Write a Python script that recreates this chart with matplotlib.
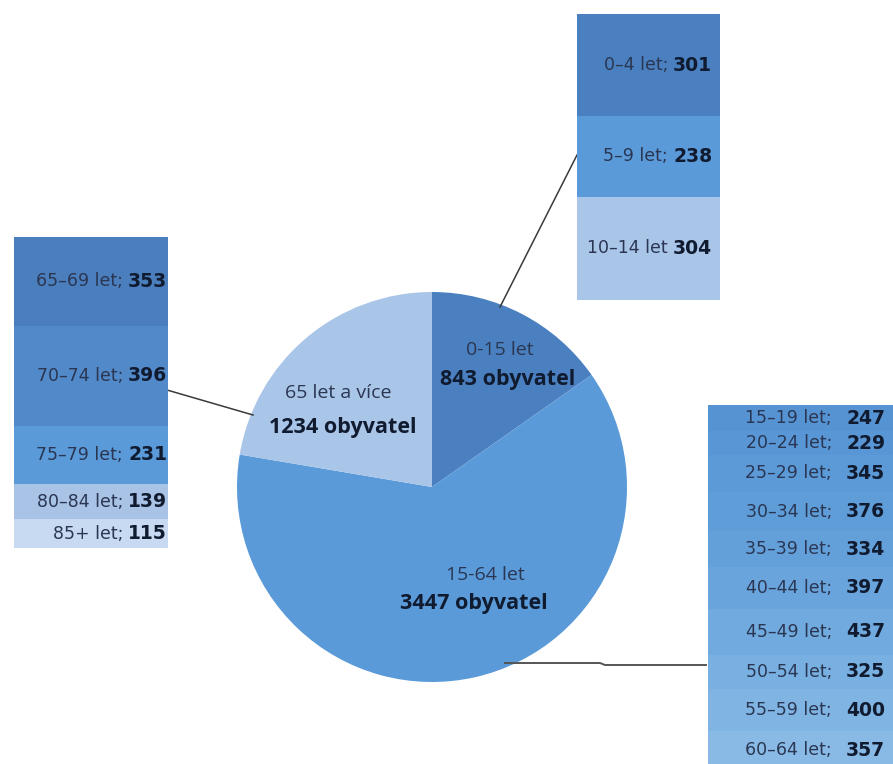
import matplotlib
matplotlib.use("Agg")
import matplotlib.pyplot as plt
import numpy as np

plt.rcParams['font.family'] = ['Open Sans', 'DejaVu Sans']

W, H = 893, 764

# ---- data ----
pie_labels = ["0-15 let", "15-64 let", "65 let a více"]
pie_values = [843, 3447, 1234]

young_labels = ["0–4 let;", "5–9 let;", "10–14 let"]
young_values = [301, 238, 304]

work_labels = ["15–19 let;", "20–24 let;", "25–29 let;", "30–34 let;", "35–39 let;",
               "40–44 let;", "45–49 let;", "50–54 let;", "55–59 let;", "60–64 let;"]
work_values = [247, 229, 345, 376, 334, 397, 437, 325, 400, 357]

old_labels = ["65–69 let;", "70–74 let;", "75–79 let;", "80–84 let;", "85+ let;"]
old_values = [353, 396, 231, 139, 115]

# ---- styles ----
DARK = "#4a80c0"
MED = "#5a9ad8"
LIGHT = "#a9c5e8"
TXT = "#2a3652"
VAL = "#111b30"
BOXFONT = ["DejaVu Sans"]

fig = plt.figure(figsize=(W / 100, H / 100), dpi=100)
fig.patch.set_facecolor("white")

ax = fig.add_axes([0, 0, 1, 1])
def Y(y):
    return H - y

ax.pie(pie_values, colors=[DARK, MED, LIGHT], startangle=90, counterclock=False,
       center=(432, Y(487)), radius=195, wedgeprops=dict(edgecolor="none"))
ax.set_xlim(0, W)
ax.set_ylim(0, H)
ax.set_aspect("equal")
ax.axis("off")

# pie labels
pie_pos = [(500, 508, 350, 379), (485, 474, 575, 604), (338, 343, 393, 428)]
for lab, val, (x1, x2, y1, y2) in zip(pie_labels, pie_values, pie_pos):
    ax.text(x1, Y(y1), lab, ha="center", va="center", fontsize=14, color=TXT)
    ax.text(x2, Y(y2), f"{val} obyvatel", ha="center", va="center", fontsize=15.5,
            fontweight="bold", color=VAL)

# leader lines
lc = "#3a3a3a"
ax.plot([500, 577], [Y(307), Y(155)], color=lc, lw=1.1)
ax.plot([167, 253], [Y(390), Y(415)], color=lc, lw=1.1)
ax.plot([505, 600, 605, 706], [Y(663), Y(663), Y(665), Y(665)], color="#555555", lw=1.4)


def box(x0, x1, y0, y1, labels, values, colors, split, gap, fs_l, fs_v):
    axb = fig.add_axes([x0 / W, 1 - y1 / H, (x1 - x0) / W, (y1 - y0) / H])
    total = sum(values)
    bottoms = np.concatenate([[0], np.cumsum(values)[:-1]])
    axb.bar(0.5, values, width=1.0, bottom=bottoms, color=colors, edgecolor="none")
    axb.set_xlim(0, 1)
    axb.set_ylim(total, 0)
    axb.axis("off")
    xs = (split - x0) / (x1 - x0)
    xv = (split + gap - x0) / (x1 - x0)
    for lab, v, b in zip(labels, values, bottoms):
        yc = b + v / 2
        axb.text(xs, yc, lab, ha="right", va="center", fontsize=fs_l, color=TXT,
                 family=BOXFONT)
        axb.text(xv, yc, str(v), ha="left", va="center", fontsize=fs_v,
                 fontweight="bold", color=VAL, family=BOXFONT)
    return axb

box(577, 720, 14, 300, young_labels, young_values, [DARK, MED, LIGHT],
    split=668, gap=5, fs_l=12.5, fs_v=13.5)

old_colors = ["#4a7ebd", "#5189c9", "#5a9ad8", "#a8c3e6", "#c7daf1"]
box(14, 168, 237, 548, old_labels, old_values, old_colors,
    split=123, gap=5, fs_l=12.5, fs_v=13.5)

work_colors = ["#5593d3", "#5896d5", "#5b99d7", "#5f9dd9", "#63a0da",
               "#69a5dc", "#70aade", "#78b0e1", "#80b5e3", "#88bae5"]
box(708, 905, 405, 769, work_labels, work_values, work_colors,
    split=832, gap=14, fs_l=12.5, fs_v=13.5)

fig.savefig("out.png", dpi=100, facecolor="white")
